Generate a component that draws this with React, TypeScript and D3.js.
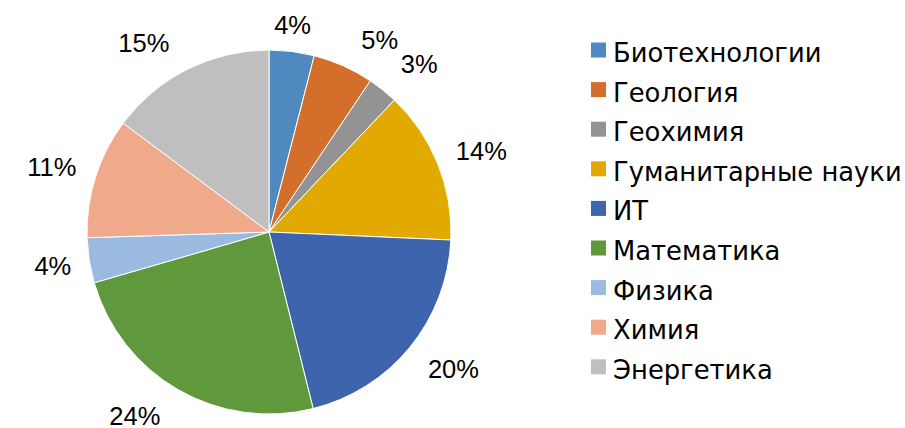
import * as d3 from "d3";
import React from "react";

// pie data (shares, %)
const categories = [
  "Биотехнологии",
  "Геология",
  "Геохимия",
  "Гуманитарные науки",
  "ИТ",
  "Математика",
  "Физика",
  "Химия",
  "Энергетика",
];
const values = [4.0, 5.4, 2.7, 13.6, 20.4, 24.4, 4.0, 10.7, 14.8];
const colors = [
  "#4f89bf",
  "#d46e2b",
  "#939393",
  "#e2aa00",
  "#3e64ae",
  "#5f993c",
  "#9bbae0",
  "#f0a98b",
  "#bfbfbf",
];

const W = 905;
const H = 428;
const LABEL_FONT = "'Liberation Sans', Arial, sans-serif";
const LEGEND_FONT = "'DejaVu Sans', sans-serif";
const LABEL_SIZE = 25.5;

const clamp = (v: number) => Math.max(-1, Math.min(1, v));

export default function App() {
  const cx = 269;
  const cy = 232;
  const r = 182;

  const total = d3.sum(values);
  const pie = d3
    .pie<number>()
    .sort(null)
    .value((d) => d);
  const arcs = pie(values);
  const arc = d3.arc<d3.PieArcDatum<number>>().innerRadius(0).outerRadius(r);

  const fmt = (v: number) => Math.round((v / total) * 100) + "%";

  // outside-end labels: start at the rim, then shift the box out
  const labelPos = (a: d3.PieArcDatum<number>, txt: string) => {
    const t = (a.startAngle + a.endAngle) / 2;
    const s = Math.sin(t);
    const c = Math.cos(t);
    // approx. text width (arial digits .556em, % .889em)
    const w = ((txt.length - 1) * 0.556 + 0.889) * LABEL_SIZE;
    const ax = w / 2 + 18;
    const ay = 26;
    const fx = Math.sign(s) * Math.max(0, Math.min(1, (Math.abs(s) - 0.12) * 4));
    const fy = clamp(c * 1.3);
    return [s * r + ax * fx, -c * r - ay * fy];
  };

  const legendX = 591;
  const legendY = 53;
  const rowH = 39.6;

  return (
    <svg width={W} height={H} style={{ position: "absolute", left: 0, top: 0 }}>
      <rect width={W} height={H} fill="#fff" />
      <g transform={`translate(${cx},${cy})`}>
        {arcs.map((a, i) => (
          <path key={i} d={arc(a) || ""} fill={colors[i]} stroke="#fff" strokeWidth={1} />
        ))}
        {arcs.map((a, i) => {
          const txt = fmt(values[i]);
          const [x, y] = labelPos(a, txt);
          return (
            <text
              key={i}
              x={x}
              y={y}
              textAnchor="middle"
              dominantBaseline="central"
              fontFamily={LABEL_FONT}
              fontSize={LABEL_SIZE}
              fill="#000"
            >
              {txt}
            </text>
          );
        })}
      </g>
      <g>
        {categories.map((c, i) => (
          <g key={c} transform={`translate(${legendX},${legendY + i * rowH})`}>
            <rect x={0} y={-10.5} width={15} height={15} fill={colors[i]} />
            <text
              x={22}
              y={0}
              dominantBaseline="central"
              fontFamily={LEGEND_FONT}
              fontSize={25.8}
              fill="#000"
            >
              {c}
            </text>
          </g>
        ))}
      </g>
    </svg>
  );
}
